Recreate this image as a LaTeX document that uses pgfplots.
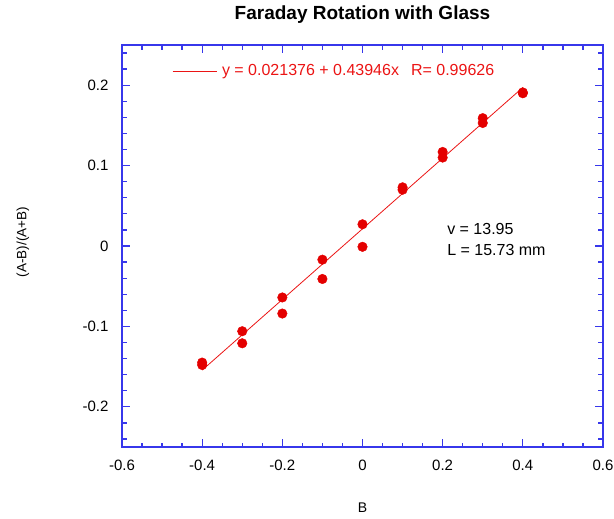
\documentclass[border=0pt]{standalone}
\usepackage{fontspec}
\setmainfont{Liberation Sans}
\usepackage{pgfplots}
\pgfplotsset{compat=1.18}
\definecolor{axblue}{RGB}{55,55,235}
\definecolor{ptred}{RGB}{228,0,0}
\definecolor{lnred}{RGB}{235,20,20}
\begin{document}
\begin{tikzpicture}
\begin{axis}[
  at={(122bp,-447bp)}, anchor=south west,
  scale only axis, width=481bp, height=402bp,
  xmin=-0.6, xmax=0.6, ymin=-0.25, ymax=0.25,
  axis line style={axblue, line width=1.6bp},
  every tick/.style={axblue, line width=1.3bp},
  major tick length=8bp, minor tick length=4.5bp,
  tick align=inside,
  xtick={-0.6,-0.4,-0.2,0,0.2,0.4,0.6},
  minor xtick={-0.55,-0.5,-0.45,-0.35,-0.3,-0.25,-0.15,-0.1,-0.05,0.05,0.1,0.15,0.25,0.3,0.35,0.45,0.5,0.55},
  ytick={-0.2,-0.1,0,0.1,0.2},
  minor ytick={-0.24,-0.22,-0.18,-0.16,-0.14,-0.12,-0.08,-0.06,-0.04,-0.02,0.02,0.04,0.06,0.08,0.12,0.14,0.16,0.18,0.22,0.24},
  /pgf/number format/.cd, fixed, precision=1, assume math mode=true, /pgfplots/.cd,
  ticklabel style={font=\fontsize{15bp}{18bp}\selectfont, text=black},
  xticklabel style={yshift=-10bp},
  yticklabel style={xshift=-10bp},
  title={Faraday Rotation with Glass},
  title style={at={([yshift=20bp]rel axis cs:0.5,1)}, anchor=base, font=\fontsize{19bp}{22bp}\selectfont\bfseries},
  xlabel={B},
  xlabel style={at={([yshift=-65.7bp]rel axis cs:0.5,0)}, anchor=base, font=\fontsize{14bp}{17bp}\selectfont},
  ylabel={(A-B)/(A+B)},
  ylabel style={at={([xshift=-95.5bp,yshift=4bp]rel axis cs:0,0.5)}, anchor=base, rotate=0, font=\fontsize{13.5bp}{16bp}\selectfont},
  legend style={at={(rel axis cs:0.104,0.935)}, anchor=west, draw=none, fill=none, inner sep=0pt,
    font=\fontsize{16bp}{18bp}\selectfont, text=lnred},
  legend cell align=left,
  legend image code/.code={\draw[lnred, line width=0.8bp] (0bp,0bp) -- (44bp,0bp);},
  clip=false,
]
\addplot[lnred, line width=0.8bp] coordinates {(-0.4,-0.154408) (0.4,0.197160)};
\addlegendentry{\hspace{3bp}y = 0.021376 + 0.43946x\hspace{12bp}R= 0.99626}
\addplot[only marks, mark=*, mark size=4.8bp, mark options={fill=ptred, draw=ptred}, forget plot] coordinates {
  (-0.4,-0.145) (-0.4,-0.148)
  (-0.3,-0.106) (-0.3,-0.121)
  (-0.2,-0.064) (-0.2,-0.084)
  (-0.1,-0.017) (-0.1,-0.041)
  (0,0.027) (0,-0.001)
  (0.1,0.070) (0.1,0.073)
  (0.2,0.117) (0.2,0.110)
  (0.3,0.159) (0.3,0.153)
  (0.4,0.190) (0.4,0.191)
};
\node[anchor=base west, font=\fontsize{16bp}{18bp}\selectfont, inner sep=0pt] at (axis cs:0.211,0.0149) {v = 13.95};
\node[anchor=base west, font=\fontsize{16bp}{18bp}\selectfont, inner sep=0pt] at (axis cs:0.211,-0.0112) {L = 15.73 mm};
\end{axis}
\pgfresetboundingbox
\useasboundingbox (0bp,0bp) rectangle (614bp,-519bp);
\end{tikzpicture}
\end{document}
